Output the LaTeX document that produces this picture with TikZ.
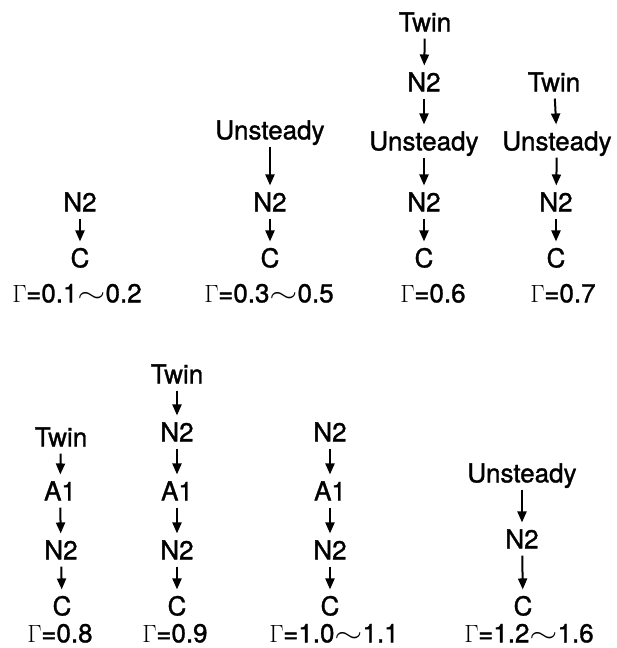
\documentclass[tikz,border=0pt]{standalone}
\usepackage{fontspec}
\setmainfont{TeX Gyre Heros}[FakeBold=1.2]
\usepackage{graphicx}
\usetikzlibrary{arrows.meta}
\newcommand{\wv}{\scalebox{1.45}[1.1]{$\sim$}}
\newcommand{\Gm}{$\Gamma$\kern-0.5pt}
\begin{document}
\begin{tikzpicture}[x=1pt,y=-1pt,
  lab/.style={font=\fontsize{26}{30}\selectfont, inner sep=0pt, text height=18.7pt, text depth=0pt},
  arr/.style={line width=2pt, -{Triangle[length=11pt,width=9pt]}, shorten <=7pt, shorten >=7pt}]
\useasboundingbox (0,0) rectangle (617,648);
% ---- top row, column 1
\node[lab] (a1) at (80,202) {N2};
\node[lab] (a2) at (80,258) {C};
\node[lab] (ag) at (77,293) {\Gm=0.1\wv0.2};
\draw[arr] (a1) -- (a2);
% ---- column 2
\node[lab] (b1) at (270,130) {Unsteady};
\node[lab] (b2) at (270,202) {N2};
\node[lab] (b3) at (270,258) {C};
\node[lab] (bg) at (269,293) {\Gm=0.3\wv0.5};
\draw[arr] (b1) -- (b2);
\draw[arr] (b2) -- (b3);
% ---- column 3
\node[lab] (c1) at (425,22) {Twin};
\node[lab] (c2) at (424,82) {N2};
\node[lab] (c3) at (424,141) {Unsteady};
\node[lab] (c4) at (424,202) {N2};
\node[lab] (c5) at (424,258) {C};
\node[lab] (cg) at (433,293) {\Gm=0.6};
\draw[arr] (c1) -- (c2);
\draw[arr] (c2) -- (c3);
\draw[arr] (c3) -- (c4);
\draw[arr] (c4) -- (c5);
% ---- column 4
\node[lab] (d1) at (554,82) {Twin};
\node[lab] (d2) at (557,141) {Unsteady};
\node[lab] (d3) at (556,202) {N2};
\node[lab] (d4) at (556,258) {C};
\node[lab] (dg) at (563,293) {\Gm=0.7};
\draw[arr] (d1) -- (d2);
\draw[arr] (d2) -- (d3);
\draw[arr] (d3) -- (d4);
% ---- bottom row, column 1
\node[lab] (e1) at (61,437) {Twin};
\node[lab] (e2) at (60,491) {A1};
\node[lab] (e3) at (61,550) {N2};
\node[lab] (e4) at (62,606) {C};
\node[lab] (eg) at (60,633) {\Gm=0.8};
\draw[arr] (e1) -- (e2);
\draw[arr] (e2) -- (e3);
\draw[arr] (e3) -- (e4);
% ---- column 2
\node[lab] (f1) at (177,374) {Twin};
\node[lab] (f2) at (177,432) {N2};
\node[lab] (f3) at (177,491) {A1};
\node[lab] (f4) at (177,550) {N2};
\node[lab] (f5) at (177,606) {C};
\node[lab] (fg) at (175,633) {\Gm=0.9};
\draw[arr] (f1) -- (f2);
\draw[arr] (f2) -- (f3);
\draw[arr] (f3) -- (f4);
\draw[arr] (f4) -- (f5);
% ---- column 3
\node[lab] (g1) at (330,432) {N2};
\node[lab] (g2) at (330,491) {A1};
\node[lab] (g3) at (330,550) {N2};
\node[lab] (g4) at (330,606) {C};
\node[lab] (gg) at (334,633) {\Gm=1.0\wv1.1};
\draw[arr] (g1) -- (g2);
\draw[arr] (g2) -- (g3);
\draw[arr] (g3) -- (g4);
% ---- column 4
\node[lab] (h1) at (522,473) {Unsteady};
\node[lab] (h2) at (522,539) {N2};
\node[lab] (h3) at (523,606) {C};
\node[lab] (hg) at (529,633) {\Gm=1.2\wv1.6};
\draw[arr] (h1) -- (h2);
\draw[arr] (h2) -- (h3);
\end{tikzpicture}
\end{document}
